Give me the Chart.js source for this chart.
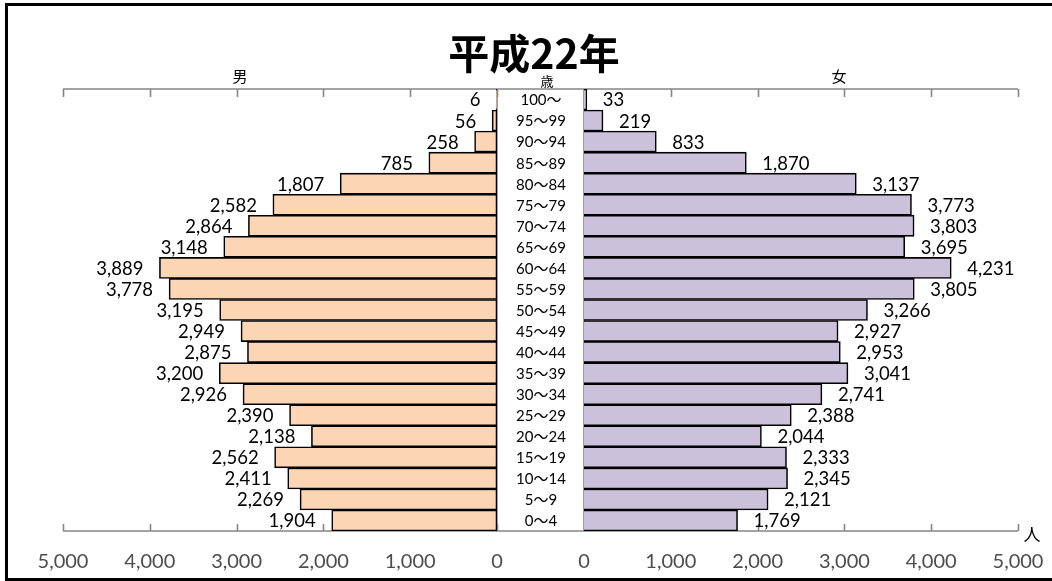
<!DOCTYPE html>
<html>
<head>
<meta charset="utf-8">
<script src="https://cdn.jsdelivr.net/npm/chart.js@4"></script>
<style>
  body { margin: 0; background: #fff; }
  #wrap { position: relative; width: 1052px; height: 581px; overflow: hidden; background: #fff; }
  #frame { position: absolute; left: 5px; top: 3px; width: 1100px; height: 578px; border: 3.5px solid #000; box-sizing: border-box; }
  canvas { position: absolute; left: 0; top: 0; }
  .txt { position: absolute; transform: translate(-50%, -50%); white-space: nowrap; color: #000; }
</style>
</head>
<body>
<div id="wrap">
  <div id="frame"></div>
  <canvas id="male" width="1052" height="581"></canvas>
  <canvas id="female" width="1052" height="581"></canvas>
  <div class="txt" style="left:534px;top:51px;font:bold 41px 'Noto Sans CJK JP';">平成22年</div>
  <div class="txt" style="left:547px;top:80px;font:13px 'Noto Sans CJK JP';">歳</div>
  <div class="txt" style="left:240px;top:75px;font:15px 'Noto Sans CJK JP';">男</div>
  <div class="txt" style="left:839px;top:75px;font:15px 'Noto Sans CJK JP';">女</div>
  <div class="txt" style="left:1032px;top:533px;font:17px 'Noto Sans CJK JP';">人</div>
</div>
<script>
const ages = ["100～", "95～99", "90～94", "85～89", "80～84", "75～79", "70～74", "65～69", "60～64", "55～59", "50～54", "45～49", "40～44", "35～39", "30～34", "25～29", "20～24", "15～19", "10～14", "5～9", "0～4"];
const male = [6, 56, 258, 785, 1807, 2582, 2864, 3148, 3889, 3778, 3195, 2949, 2875, 3200, 2926, 2390, 2138, 2562, 2411, 2269, 1904];
const female = [33, 219, 833, 1870, 3137, 3773, 3803, 3695, 4231, 3805, 3266, 2927, 2953, 3041, 2741, 2388, 2044, 2333, 2345, 2121, 1769];
const xMax = 5000;
const xStep = 1000;

// pixel layout
const TOP = 89, BOT = 531;
const L_LEFT = 63, L_ZERO = 497, R_ZERO = 584, R_RIGHT = 1018;
const W = 1052;
const MID = 541;

const fmt = (v) => v.toLocaleString("en-US");

// gray axis frame: top & bottom lines with inward ticks, vertical zero line
function axisPlugin(isMale) {
  return {
    id: "axisFrame" + (isMale ? "M" : "F"),
    beforeDatasetsDraw(chart) {
      const x = chart.scales.x;
      const ctx = chart.ctx;
      ctx.save();
      ctx.strokeStyle = "#868686";
      ctx.lineWidth = 1.6;
      const a = x.getPixelForValue(xMax);
      const z = x.getPixelForValue(0);
      let x1 = Math.min(a, z), x2 = Math.max(a, z);
      if (!isMale) x1 = L_ZERO; // bridge across the age column
      ctx.beginPath();
      ctx.moveTo(x1, TOP); ctx.lineTo(x2, TOP);
      ctx.moveTo(x1, BOT); ctx.lineTo(x2, BOT);
      for (let v = 0; v <= xMax; v += xStep) {
        const p = Math.round(x.getPixelForValue(v)) + 0.5;
        ctx.moveTo(p, TOP); ctx.lineTo(p, TOP + 8);
        ctx.moveTo(p, BOT); ctx.lineTo(p, BOT - 7);
      }
      ctx.moveTo(z, TOP); ctx.lineTo(z, BOT);
      ctx.stroke();
      ctx.restore();
    },
  };
}

function valuePlugin(isMale, values) {
  return {
    id: "values" + (isMale ? "M" : "F"),
    afterDatasetsDraw(chart) {
      const ctx = chart.ctx;
      const meta = chart.getDatasetMeta(0);
      ctx.save();
      ctx.font = "18.5px Lato";
      ctx.fillStyle = "#000";
      ctx.textBaseline = "middle";
      meta.data.forEach((bar, i) => {
        if (isMale) {
          ctx.textAlign = "right";
          ctx.fillText(fmt(values[i]), bar.x - 16, bar.y + 1);
        } else {
          ctx.textAlign = "left";
          ctx.fillText(fmt(values[i]), bar.x + 16, bar.y + 1);
        }
      });
      if (!isMale) {
        // age class labels in the middle column
        ctx.font = "15px Lato, 'Noto Sans CJK JP'";
        ctx.textAlign = "center";
        const y = chart.scales.y;
        ages.forEach((lab, i) => {
          ctx.fillText(lab, MID, y.getPixelForValue(i) + 1);
        });
      }
      ctx.restore();
    },
  };
}

function makeChart(id, isMale, values) {
  return new Chart(document.getElementById(id), {
    type: "bar",
    data: {
      labels: ages,
      datasets: [{
        data: values,
        backgroundColor: isMale ? "#FCD5B5" : "#CCC1DA",
        borderColor: "#000",
        borderWidth: 1.6,
        borderSkipped: isMale ? false : "start",
        barPercentage: 1,
        categoryPercentage: 1,
      }],
    },
    options: {
      indexAxis: "y",
      responsive: false,
      animation: false,
      events: [],
      layout: {
        padding: {
          left: isMale ? L_LEFT : R_ZERO,
          right: isMale ? W - L_ZERO : W - R_RIGHT,
          top: TOP,
          bottom: 0,
        },
      },
      plugins: { legend: { display: false }, tooltip: { enabled: false } },
      scales: {
        x: {
          min: 0,
          max: xMax,
          reverse: isMale,
          afterFit: (s) => {
            s.height = 581 - BOT;
            s.paddingLeft = 0;
            s.paddingRight = 0;
          },
          grid: { display: false, drawTicks: false },
          border: { display: false },
          ticks: {
            stepSize: xStep,
            autoSkip: false,
            maxRotation: 0,
            padding: 19,
            color: "#4d4d4d",
            font: { family: "Lato", size: 20 },
            callback: (v) => fmt(v),
          },
        },
        y: { display: false },
      },
    },
    plugins: [axisPlugin(isMale), valuePlugin(isMale, values)],
  });
}

makeChart("male", true, male);
makeChart("female", false, female);
</script>
</body>
</html>
